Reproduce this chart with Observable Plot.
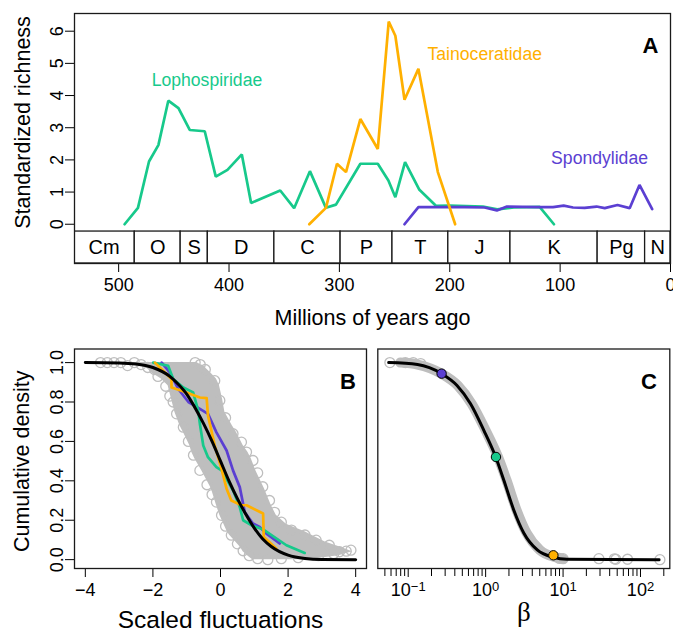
<!DOCTYPE html>
<html><head><meta charset="utf-8">
<script src="https://cdn.jsdelivr.net/npm/d3@7"></script>
<script src="https://cdn.jsdelivr.net/npm/@observablehq/plot@0.6"></script>
<style>
body{margin:0;background:#fff;}
#wrap{position:relative;width:673px;height:631px;overflow:hidden;background:#fff;}
#wrap > svg{position:absolute;overflow:visible;}
</style></head><body><div id="wrap"></div>
<script>
// ---------- Panel A data ----------
const periodNames = ["Cm","O","S","D","C","P","T","J","K","Pg","N"];
const periodStart = [541, 485.4, 443.8, 419.2, 358.9, 298.9, 251.9, 201.3, 145, 66, 23];
const periodEnd   = [485.4, 443.8, 419.2, 358.9, 298.9, 251.9, 201.3, 145, 66, 23, 0];

const lophoMa   = [494.6, 482.5, 472.5, 464, 455, 445.8, 435.6, 422, 412, 401.4, 388.4, 380, 353.6, 341, 326.7, 312.2, 303.1, 281, 265.2, 255.6, 249.3, 240.5, 227.5, 212.3, 200, 170, 157, 142, 118.6, 105.6];
const lophoRich = [0, 0.51, 1.95, 2.46, 3.84, 3.61, 2.93, 2.89, 1.48, 1.69, 2.17, 0.66, 1.05, 0.50, 1.65, 0.51, 0.61, 1.88, 1.88, 1.36, 0.84, 1.93, 1.07, 0.57, 0.58, 0.55, 0.46, 0.52, 0.54, 0];

const tainoMa   = [327.3, 312.2, 302.2, 294, 281, 265.2, 255.3, 249.3, 241, 228.4, 210.8, 195.1];
const tainoRich = [0, 0.51, 1.88, 1.62, 3.27, 2.34, 6.3, 5.86, 3.87, 4.83, 1.62, 0];

const spondMa   = [241, 228.4, 200, 186.6, 168.5, 157.3, 148.2, 134, 120, 106.4, 96.8, 88.3, 77.8, 67, 59.6, 48, 37, 28.1, 16.6];
const spondRich = [0, 0.53, 0.53, 0.53, 0.52, 0.43, 0.55, 0.54, 0.53, 0.53, 0.58, 0.52, 0.51, 0.55, 0.5, 0.6, 0.5, 1.22, 0.47];

const familyNames = ["Lophospiridae", "Tainoceratidae", "Spondylidae"];
const familyLabelMa = [420, 168.3, 64.3];
const familyLabelY  = [4.30, 5.09, 1.876];
const xTicksA = [0, 100, 200, 300, 400, 500];
const yTicksA = [0, 1, 2, 3, 4, 5, 6];

// ---------- Panel B data ----------
const bandY  = [1.0, 0.99, 0.984, 0.967, 0.95, 0.917, 0.883, 0.815, 0.748, 0.68, 0.646, 0.579, 0.545, 0.512, 0.45, 0.36, 0.276, 0.225, 0.18, 0.141, 0.124, 0.09, 0.06, 0.04, 0.02, 0.0];
const bandLo = [-3.5, -2.9, -2.3, -2.15, -2.05, -1.75, -1.55, -1.45, -1.35, -1.2, -1.1, -0.91, -0.85, -0.76, -0.55, -0.27, -0.12, -0.02, 0.1, 0.2, 0.27, 0.45, 0.6, 0.67, 0.8, 0.95];
const bandHi = [-0.7, -0.6, -0.5, -0.41, -0.3, -0.12, -0.03, 0.06, 0.13, 0.35, 0.47, 0.67, 0.81, 0.91, 1.05, 1.3, 1.5, 1.65, 1.95, 2.5, 2.7, 3.1, 3.6, 3.9, 3.5, 2.6];

const edgeX = [-3.55, -3.35, -3.15, -2.95, -2.75, -2.55, -2.35, -2.15, -1.95, -0.75, -0.6, -0.45,
  -1.85, -1.62, -1.5, -1.4, -1.3, -1.1, -0.95, -0.8, -0.61, -0.4, -0.25, -0.12, 0.03, 0.15, 0.32, 0.5, 0.67, 0.85, 1.1,
  -0.17, -0.02, 0.15, 0.37, 0.62, 0.77, 0.96, 1.1, 1.25, 1.45, 1.6, 1.8, 2.1, 2.5, 2.83, 3.22, 3.52, 3.72, 3.86, 3.35, 2.9, 2.3, 1.8, 1.4];
const edgeY = [1.0, 1.0, 1.0, 1.0, 0.985, 1.0, 0.99, 0.975, 0.965, 1.0, 0.99, 0.965,
  0.93, 0.88, 0.83, 0.8, 0.74, 0.672, 0.6, 0.53, 0.453, 0.38, 0.33, 0.292, 0.225, 0.17, 0.124, 0.08, 0.045, 0.02, 0.005,
  0.908, 0.808, 0.72, 0.639, 0.596, 0.546, 0.503, 0.44, 0.37, 0.3, 0.24, 0.19, 0.15, 0.125, 0.099, 0.073, 0.04, 0.043, 0.048, 0.03, 0.02, 0.01, 0.005, 0.0];

const normX = [-4, -3, -2.5, -2, -1.5, -1.25, -1, -0.75, -0.5, -0.25, 0, 0.25, 0.5, 0.75, 1, 1.25, 1.5, 2, 2.5, 3, 4];
const normY = [1.0, 0.998, 0.993, 0.975, 0.93, 0.89, 0.84, 0.77, 0.69, 0.60, 0.50, 0.40, 0.31, 0.23, 0.16, 0.105, 0.067, 0.023, 0.006, 0.001, 0];

const spondBx = [-1.74, -1.5, -1.25, -0.95, -0.61, -0.37, -0.12, 0.18, 0.37, 0.57, 0.72, 0.96, 1.16, 1.36, 1.75];
const spondBy = [1.0, 0.95, 0.866, 0.80, 0.765, 0.74, 0.646, 0.554, 0.453, 0.368, 0.24, 0.183, 0.166, 0.132, 0.082];
const lophoBx = [-1.99, -1.55, -1.4, -1.1, -0.81, -0.66, -0.61, -0.51, -0.37, -0.12, 0.03, 0.37, 0.57, 0.67, 0.91, 1.26, 1.95, 2.49];
const lophoBy = [1.0, 0.984, 0.917, 0.874, 0.849, 0.756, 0.689, 0.579, 0.52, 0.47, 0.453, 0.352, 0.267, 0.2, 0.175, 0.153, 0.073, 0.034];
const tainoBx = [-1.94, -1.45, -1.45, -1.15, -0.61, -0.41, -0.37, -0.17, 0.03, 0.18, 0.32, 0.62, 0.77, 1.26, 1.28, 1.65];
const tainoBy = [1.0, 0.917, 0.874, 0.857, 0.823, 0.82, 0.731, 0.579, 0.461, 0.36, 0.30, 0.276, 0.276, 0.234, 0.115, 0.057];
const xTicksB = [-4, -2, 0, 2, 4];
const yTicksB = [0, 0.2, 0.4, 0.6, 0.8, 1.0];

// ---------- Panel C data ----------
const cBlackBeta = [0.056, 0.132, 0.269, 0.427, 0.638, 0.948, 1.349, 1.718, 2.312, 3.119, 4.645, 7.464, 11.22, 173.8];
const cBlackY    = [1.0, 0.99, 0.944, 0.884, 0.791, 0.656, 0.521, 0.403, 0.251, 0.134, 0.049, 0.012, 0.002, 0.0];
const cGrayBeta  = [0.079, 0.132, 0.269, 0.437, 0.661, 1.0, 1.445, 1.862, 2.512, 3.39, 5.01, 7.94, 10];
const cGrayY     = [1.0, 0.99, 0.944, 0.884, 0.791, 0.656, 0.521, 0.403, 0.251, 0.134, 0.049, 0.012, 0.004];
const cCircBeta  = [0.058, 0.092, 0.116, 0.145, 9.0, 10, 29, 46, 48, 68, 178];
const cCircY     = [1.0, 1.0, 1.0, 0.995, 0.006, 0.005, 0.005, 0.004, 0.002, 0.002, 0.0];
const cFamBeta   = [0.27, 1.36, 7.5];
const cFamY      = [0.944, 0.521, 0.022];
const cMajor     = [0.1, 1, 10, 100];
const cMajorExp  = ["\u22121", "0", "1", "2"];
const cMinor     = [0.05,0.06,0.07,0.08,0.09,0.2,0.3,0.4,0.5,0.6,0.7,0.8,0.9,2,3,4,5,6,7,8,9,20,30,40,50,60,70,80,90,200];

// ---------- styles ----------
const GREEN = "#17C98B", ORANGE = "#FFB000", PURPLE = "#5B3FD2", GRAY = "#BEBEBE", INK = "#1a1a1a";
const famColors = [GREEN, ORANGE, PURPLE];
const FONT = "'Liberation Sans', Arial, Helvetica, 'DejaVu Sans', sans-serif";
const BAR_BOTTOM = -1.22, BAR_TOP = -0.227;

const rows = (xs, ys) => xs.map((x, i) => ({x, y: ys[i]}));
const periods = periodNames.map((name, i) => ({name, start: periodStart[i], end: periodEnd[i]}));
const famLabels = familyNames.map((name, i) => ({name, x: familyLabelMa[i], y: familyLabelY[i], c: famColors[i]}));
const baseStyle = {fontFamily: FONT, fontSize: "18px", color: "black", background: "transparent", overflow: "visible"};

const wrap = document.getElementById("wrap");
function place(svg, left, top) { svg.style.left = left + "px"; svg.style.top = top + "px"; wrap.appendChild(svg); }

// ---------- Panel A ----------
const plotA = Plot.plot({
  width: 673, height: 335, marginLeft: 74, marginRight: 3, marginTop: 13, marginBottom: 72,
  style: baseStyle,
  x: {domain: [540, 0]},
  y: {domain: [BAR_BOTTOM, 6.55]},
  marks: [
    Plot.rect(periods, {x1: "start", x2: "end", y1: () => BAR_BOTTOM, y2: () => BAR_TOP, fill: "white", stroke: INK, strokeWidth: 1.3, clip: true}),
    Plot.text(periods, {x: d => (d.start + d.end) / 2, y: () => (BAR_BOTTOM + BAR_TOP) / 2, text: "name", fontSize: 20, fill: "black", clip: true}),
    Plot.line(rows(lophoMa, lophoRich), {x: "x", y: "y", stroke: GREEN, strokeWidth: 2.7, strokeLinejoin: "miter"}),
    Plot.line(rows(spondMa, spondRich), {x: "x", y: "y", stroke: PURPLE, strokeWidth: 2.7, strokeLinejoin: "miter"}),
    Plot.line(rows(tainoMa, tainoRich), {x: "x", y: "y", stroke: ORANGE, strokeWidth: 2.7, strokeLinejoin: "miter"}),
    Plot.text(famLabels, {x: "x", y: "y", text: "name", fill: "c", fontSize: 17.6, lineAnchor: "bottom"}),
    Plot.text(["A"], {frameAnchor: "top-right", dx: -20, dy: 39.7, lineAnchor: "bottom", textAnchor: "middle", fontWeight: "bold", fontSize: 22, fill: "black"}),
    Plot.axisY({ticks: yTicksA, tickSize: 9, tickPadding: 3, tickRotate: -90, label: null}),
    Plot.axisX({ticks: xTicksA, tickSize: 9, tickPadding: 6, label: null}),
    Plot.text(["Standardized richness"], {frameAnchor: "left", dx: -45, dy: -16, rotate: -90, lineAnchor: "bottom", textAnchor: "middle", fontSize: 21.5, fill: "black"}),
    Plot.text(["Millions of years ago"], {frameAnchor: "bottom", dy: 61, lineAnchor: "bottom", textAnchor: "middle", fontSize: 21.5, fill: "black"}),
    Plot.frame({stroke: INK, strokeWidth: 1.3})
  ]
});
place(plotA, 0, 0);

// ---------- Panel B ----------
const bandRows = bandY.map((y, i) => ({y, lo: bandLo[i], hi: bandHi[i]}));
const plotB = Plot.plot({
  width: 372, height: 296, marginLeft: 74, marginRight: 6, marginTop: 13.5, marginBottom: 63,
  style: baseStyle,
  x: {domain: [-4.32, 4.32]},
  y: {domain: [-0.045, 1.069]},
  marks: [
    Plot.areaX(bandRows, {y: "y", x1: "lo", x2: "hi", fill: GRAY}),
    Plot.dot(rows(edgeX, edgeY), {x: "x", y: "y", r: 5, stroke: GRAY, strokeWidth: 1.3, fill: "none"}),
    Plot.line(rows(spondBx, spondBy), {x: "x", y: "y", stroke: PURPLE, strokeWidth: 2.7}),
    Plot.line(rows(lophoBx, lophoBy), {x: "x", y: "y", stroke: GREEN, strokeWidth: 2.7}),
    Plot.line(rows(tainoBx, tainoBy), {x: "x", y: "y", stroke: ORANGE, strokeWidth: 2.7}),
    Plot.line(rows(normX, normY), {x: "x", y: "y", stroke: "black", strokeWidth: 3, curve: "monotone-x"}),
    Plot.text(["B"], {frameAnchor: "top-right", dx: -18.5, dy: 39.8, lineAnchor: "bottom", textAnchor: "middle", fontWeight: "bold", fontSize: 22, fill: "black"}),
    Plot.axisY({ticks: yTicksB, tickFormat: d3.format(".1f"), tickSize: 9, tickPadding: 3, tickRotate: -90, label: null}),
    Plot.axisX({ticks: xTicksB, tickSize: 9, tickPadding: 6, label: null}),
    Plot.text(["Cumulative density"], {frameAnchor: "left", dx: -45.2, dy: 2.5, rotate: -90, lineAnchor: "bottom", textAnchor: "middle", fontSize: 21.5, fill: "black"}),
    Plot.text(["Scaled fluctuations"], {frameAnchor: "bottom", dy: 59, lineAnchor: "bottom", textAnchor: "middle", fontSize: 24.5, fill: "black"}),
    Plot.frame({stroke: INK, strokeWidth: 1.3})
  ]
});
place(plotB, 0, 335);

// ---------- Panel C ----------
const famDots = cFamBeta.map((b, i) => ({x: b, y: cFamY[i], c: [PURPLE, GREEN, ORANGE][i]}));
const plotC = Plot.plot({
  width: 303, height: 296, marginLeft: 7.3, marginRight: 3.7, marginTop: 13.5, marginBottom: 63,
  style: baseStyle,
  x: {type: "log", domain: [0.0405, 239]},
  y: {domain: [-0.045, 1.069], axis: null},
  marks: [
    Plot.line(rows(cGrayBeta, cGrayY), {x: "x", y: "y", stroke: GRAY, strokeWidth: 10, strokeLinecap: "round", curve: "monotone-x"}),
    Plot.dot(rows(cCircBeta, cCircY), {x: "x", y: "y", r: 5, stroke: GRAY, strokeWidth: 1.3, fill: "none"}),
    Plot.line(rows(cBlackBeta, cBlackY), {x: "x", y: "y", stroke: "black", strokeWidth: 3, curve: "monotone-x"}),
    Plot.dot(famDots, {x: "x", y: "y", r: 4.7, fill: "c", stroke: "black", strokeWidth: 1}),
    Plot.text(["C"], {frameAnchor: "top-right", dx: -20.8, dy: 39.5, lineAnchor: "bottom", textAnchor: "middle", fontWeight: "bold", fontSize: 22, fill: "black"}),
    Plot.axisX({ticks: cMinor, tickSize: 8, tickFormat: () => "", label: null}),
    Plot.axisX({ticks: cMajor, tickSize: 9, tickPadding: 6, tickFormat: d => "10^" + cMajorExp[cMajor.indexOf(d)], label: null}),
    Plot.text(["\u03B2"], {frameAnchor: "bottom", dy: 52, lineAnchor: "bottom", textAnchor: "middle", fontSize: 27, fontFamily: "'Liberation Serif', 'DejaVu Serif', serif", fill: "black"}),
    Plot.frame({stroke: INK, strokeWidth: 1.3})
  ]
});
// render the exponents of the log-axis labels as raised, smaller text
plotC.querySelectorAll("text").forEach(t => {
  const s = t.textContent;
  if (s.startsWith("10^")) {
    const exp = s.slice(3);
    t.textContent = "10";
    const ts = document.createElementNS("http://www.w3.org/2000/svg", "tspan");
    ts.setAttribute("dy", "-0.42em");
    ts.setAttribute("font-size", "13px");
    ts.textContent = exp;
    t.appendChild(ts);
  }
});
place(plotC, 370, 335);
</script></body></html>
